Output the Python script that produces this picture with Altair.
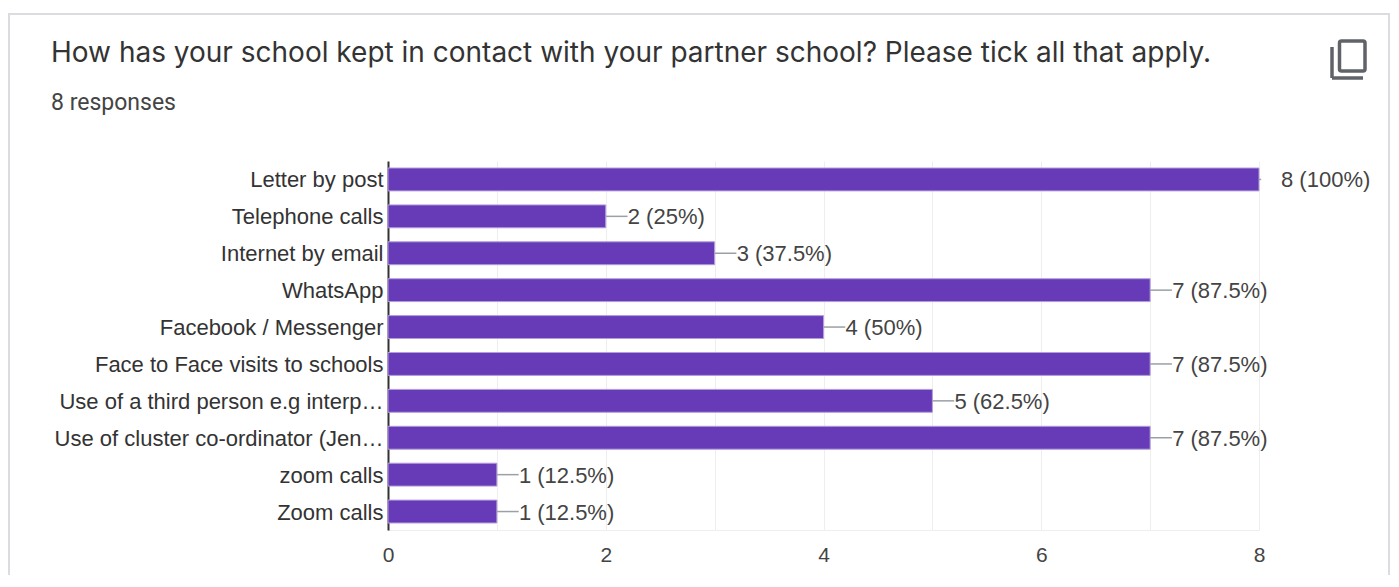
import altair as alt
import pandas as pd

categories = ["Letter by post", "Telephone calls", "Internet by email", "WhatsApp",
              "Facebook / Messenger", "Face to Face visits to schools",
              "Use of a third person e.g interp…", "Use of cluster co-ordinator (Jen…",
              "zoom calls", "Zoom calls"]
values = [8, 2, 3, 7, 4, 7, 5, 7, 1, 1]
labels = ["8 (100%)", "2 (25%)", "3 (37.5%)", "7 (87.5%)", "4 (50%)", "7 (87.5%)",
          "5 (62.5%)", "7 (87.5%)", "1 (12.5%)", "1 (12.5%)"]
x_ticks = [0, 1, 2, 3, 4, 5, 6, 7, 8]
title_text = "How has your school kept in contact with your partner school? Please tick all that apply."
subtitle_text = "8 responses"

df = pd.DataFrame({"category": categories, "value": values, "label": labels})
one = pd.DataFrame({"a": [0]})

W, H = 871, 369
x_scale = alt.Scale(domain=[0, 8], nice=False)
y_scale = alt.Scale(domain=categories, paddingInner=0.38, paddingOuter=0.19)

x_enc = alt.X("value:Q", scale=x_scale, axis=alt.Axis(
    values=x_ticks, format="d", title=None, grid=True, gridColor="#eeeeee", gridWidth=1,
    domain=True, domainColor="#eeeeee", ticks=False, labelFont="Liberation Sans",
    labelFontSize=21, labelColor="#444444", labelPadding=14, labelFlush=False,
    labelExpr="datum.value % 2 === 0 ? datum.label : ''"))
y_enc = alt.Y("category:N", sort=categories, scale=y_scale, axis=alt.Axis(
    title=None, grid=False, ticks=False, domain=True, domainColor="#333333", domainWidth=2,
    labelFont="Liberation Sans", labelFontSize=22, labelColor="#333333", labelPadding=5,
    labelOffset=1, labelLimit=400))

card = alt.Chart(one).mark_rect(fill="transparent", stroke="#dadce0", strokeWidth=2).encode(
    x=alt.value(-379), x2=alt.value(1001), y=alt.value(-147), y2=alt.value(440))

leader = alt.Chart(df).transform_calculate(end="min(datum.value + 0.2, 8.02)").mark_rule(
    color="#9aa0a6", strokeWidth=1.5).encode(
    x=alt.X("value:Q", scale=x_scale), x2="end:Q",
    y=alt.Y("category:N", sort=categories, scale=y_scale))

bars = alt.Chart(df).mark_bar(color="#673ab7", stroke="#b39ddb", strokeWidth=1).encode(
    x=x_enc, y=y_enc)

text = alt.Chart(df).mark_text(align="left", baseline="middle", dx=22, dy=1, font="Liberation Sans",
                               fontSize=22, color="#444444").encode(
    x=alt.X("value:Q", scale=x_scale), y=alt.Y("category:N", sort=categories, scale=y_scale),
    text="label:N")

title = alt.Chart(one).mark_text(align="left", baseline="middle", font="Inter", fontSize=28,
                                 color="#333333").encode(
    x=alt.value(-337), y=alt.value(-107), text=alt.value(title_text))
subtitle = alt.Chart(one).mark_text(align="left", baseline="middle", font="Roboto", fontSize=23,
                                    color="#444444").encode(
    x=alt.value(-337), y=alt.value(-58), text=alt.value(subtitle_text))

icon_color = "#5f6368"
icon_front = alt.Chart(one).mark_rect(fill="white", stroke=icon_color, strokeWidth=3.5, cornerRadius=2).encode(
    x=alt.value(951.5), x2=alt.value(977), y=alt.value(-120), y2=alt.value(-90))
icon_left = alt.Chart(one).mark_rule(color=icon_color, strokeWidth=3.5).encode(
    x=alt.value(944), x2=alt.value(944), y=alt.value(-114), y2=alt.value(-83))
icon_bottom = alt.Chart(one).mark_rule(color=icon_color, strokeWidth=3.5).encode(
    x=alt.value(944), x2=alt.value(975), y=alt.value(-83), y2=alt.value(-83))

chart = alt.layer(card, bars, leader, text, title, subtitle, icon_front, icon_left, icon_bottom).resolve_scale(
    x="shared", y="shared").properties(
    width=W, height=H, background="white",
    autosize=alt.AutoSizeParams(type="none"),
    padding={"left": 380, "top": 153, "right": 132, "bottom": 45},
).configure_view(stroke=None)

chart.save("out.html", embed_options={"renderer": "svg", "actions": False})
